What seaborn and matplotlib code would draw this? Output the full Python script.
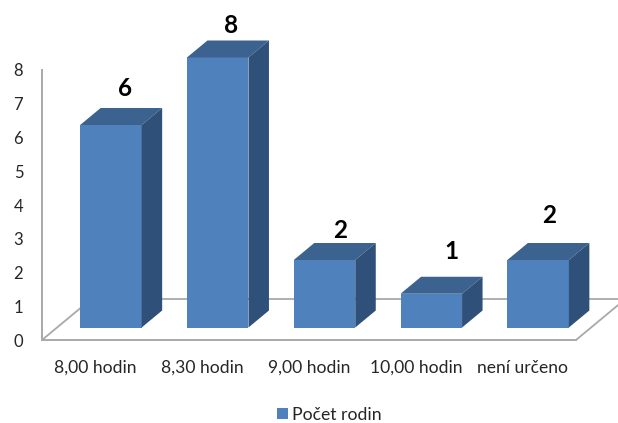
import matplotlib
matplotlib.use("Agg")
import matplotlib.pyplot as plt
import seaborn as sns
import pandas as pd
from matplotlib.patches import Polygon
from matplotlib.transforms import ScaledTranslation

categories = ["8,00 hodin", "8,30 hodin", "9,00 hodin", "10,00 hodin", "není určeno"]
values = [6, 8, 2, 1, 2]
series_name = "Počet rodin"

W, H = 618, 423
DPI = 100
sns.set_theme(style="white")
plt.rcParams["font.family"] = ["Lato", "DejaVu Sans"]

FRONT = "#4F81BD"
TOP = "#3C6290"
SIDE = "#2F5078"
GRID = "#A9A9A9"
TEXT = "#262626"

fig = plt.figure(figsize=(W / DPI, H / DPI), dpi=DPI, facecolor="white")
ax = fig.add_axes([42 / W, 1 - 340 / H, 534 / W, 270 / H])

df = pd.DataFrame({"cat": categories, "val": values})
sns.barplot(data=df, x="cat", y="val", color=FRONT, saturation=1, width=0.576,
            label=series_name, ax=ax, zorder=3)
ax.set_xlim(-0.5, 4.5)
ax.set_ylim(0, 8)
ax.set_yticks(range(0, 9))
ax.set_xlabel("")
ax.set_ylabel("")


def px(dx, dy):
    """Shift in screen pixels (y up)."""
    return ScaledTranslation(dx / DPI, dy / DPI, fig.dpi_scale_trans)


# front faces sit forward of the axis plane; depth goes back and to the right
front_shift = ax.transData + px(15.5, 12.5)
depth_x, depth_y = 20.5, 17
back_shift = front_shift + px(depth_x, depth_y)

# hand-placed value labels, as in the reference (pixels from the front-top centre)
label_nudge = [(14, 36), (13, 32), (16, 30), (20, 42), (11, 45)]
for patch, nudge, v in zip(list(ax.patches), label_nudge, values):
    x0, w, h = patch.get_x(), patch.get_width(), patch.get_height()
    x1 = x0 + w
    patch.set_transform(front_shift)
    patch.set_linewidth(0)
    patch.set_clip_on(False)
    fx = lambda x, y: front_shift.transform((x, y))
    bx = lambda x, y: back_shift.transform((x, y))
    top = [fx(x0, h), fx(x1, h), bx(x1, h), bx(x0, h)]
    side = [fx(x1, 0), bx(x1, 0), bx(x1, h), fx(x1, h)]
    ax.add_patch(Polygon(top, closed=True, transform=None, facecolor=TOP, lw=0, zorder=3, clip_on=False))
    ax.add_patch(Polygon(side, closed=True, transform=None, facecolor=SIDE, lw=0, zorder=3, clip_on=False))
    ax.annotate(str(v), xy=(x0 + w / 2, h), xycoords=front_shift,
                xytext=nudge, textcoords="offset pixels",
                ha="center", va="center", fontsize=17.5, fontweight="bold",
                color="black", zorder=5, annotation_clip=False)

# floor of the 3-D frame, drawn from the axes' own corners
floor_dx, floor_dy = 50, 41.5
back_floor = ax.transAxes + px(floor_dx, floor_dy)
ax.plot((0, 1), (0, 0), color=GRID, lw=1.3, transform=back_floor, clip_on=False, zorder=1)
for xa in (0, 1):
    p0 = ax.transAxes.transform((xa, 0))
    p1 = back_floor.transform((xa, 0))
    ax.plot([p0[0], p1[0]], [p0[1], p1[1]], color=GRID, lw=1.3, transform=None,
            clip_on=False, zorder=1)

sns.despine(ax=ax, top=True, right=True)
for s in ("left", "bottom"):
    ax.spines[s].set_color(GRID)
    ax.spines[s].set_linewidth(1.4)
ax.tick_params(axis="y", length=0, pad=13.5, labelsize=12, labelcolor=TEXT)
ax.tick_params(axis="x", length=0, pad=14.2, labelsize=12.6, labelcolor=TEXT)
ax.patch.set_alpha(0)

ax.legend(loc="center left", bbox_to_anchor=(277 / W, 1 - 414.5 / H),
          bbox_transform=fig.transFigure, frameon=False, fontsize=12.7,
          handlelength=0.62, handleheight=0.62, handletextpad=0.25,
          borderpad=0, borderaxespad=0, labelcolor=TEXT)
fig.savefig("out.png", dpi=DPI, facecolor="white")
